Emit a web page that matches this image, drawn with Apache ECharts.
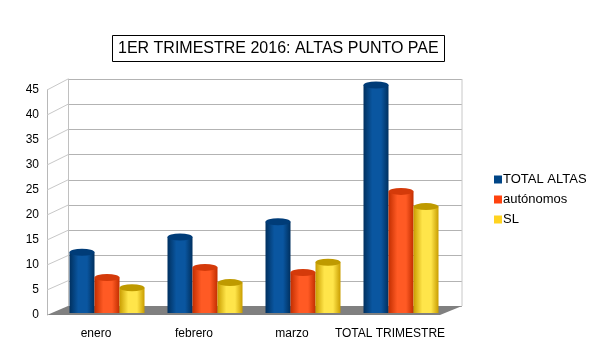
<!DOCTYPE html>
<html>
<head>
<meta charset="utf-8">
<script src="https://cdn.jsdelivr.net/npm/echarts@6/dist/echarts.min.js"></script>
<style>
  html, body { margin: 0; padding: 0; background: #fff; }
  #chart { width: 600px; height: 362px; }
</style>
</head>
<body>
<div id="chart"></div>
<script>
// datos del gráfico
var meses = ['enero', 'febrero', 'marzo', 'TOTAL TRIMESTRE'];
var totalAltas = [12, 15, 18, 45];
var autonomos = [7, 9, 8, 24];
var sl = [5, 6, 10, 21];
var yTicks = [0, 5, 10, 15, 20, 25, 30, 35, 40, 45];

var nombres = ['TOTAL ALTAS', 'autónomos', 'SL'];
var valores = [totalAltas, autonomos, sl];
// [borde oscuro, centro claro, tapa, plano leyenda]
var colores = [
  ['#00305f', '#0a56a0', '#003c78', '#004586'],
  ['#c22e00', '#ff5a24', '#d43a0a', '#ff420e'],
  ['#c99d00', '#ffe54a', '#bf9a00', '#ffd320']
];

// caja frontal (etiquetas), pared del fondo y zona de barras
var FRONT = { left: 47, right: 161, top: 90, bottom: 47 };
var BACK = { left: 68, right: 138, top: 79, bottom: 56 };
var BARS = { left: 58, right: 150, top: 85, bottom: 49 };
var W = 600, H = 362;

var myChart = echarts.init(document.getElementById('chart'));

function cilindro(c) {
  return new echarts.graphic.LinearGradient(0, 0, 1, 0, [
    { offset: 0, color: c[0] },
    { offset: 0.35, color: c[1] },
    { offset: 0.7, color: c[1] },
    { offset: 1, color: c[0] }
  ]);
}

var series = [];
nombres.forEach(function (n, i) {
  series.push({
    name: n,
    type: 'bar',
    xAxisIndex: 2,
    yAxisIndex: 2,
    barWidth: 25,
    barGap: 0,
    itemStyle: { color: cilindro(colores[i]) },
    z: 3,
    data: valores[i]
  });
});
nombres.forEach(function (n, i) {
  series.push({
    name: n,
    type: 'pictorialBar',
    xAxisIndex: 2,
    yAxisIndex: 2,
    barWidth: 25,
    barGap: 0,
    symbol: 'circle',
    symbolSize: [25, 7],
    symbolPosition: 'end',
    symbolOffset: [0, '-50%'],
    itemStyle: { color: colores[i][2] },
    z: 4,
    data: valores[i]
  });
});

var option = {
  backgroundColor: '#fff',
  animation: false,
  textStyle: { fontFamily: 'Liberation Sans, Arial, sans-serif' },
  title: {
    text: '1ER TRIMESTRE 2016: ALTAS PUNTO PAE',
    left: 112,
    top: 35,
    padding: [6, 6, 5, 6],
    borderColor: '#000',
    borderWidth: 1,
    textStyle: { fontSize: 16, fontWeight: 'normal', color: '#000', fontFamily: 'Liberation Sans' }
  },
  legend: {
    orient: 'vertical',
    left: 489,
    top: 168,
    itemWidth: 8,
    itemHeight: 8,
    itemGap: 7,
    icon: 'rect',
    textStyle: { fontSize: 13, color: '#000', padding: [0, 0, 0, -4] },
    data: nombres.map(function (n, i) {
      return { name: n, itemStyle: { color: colores[i][3] } };
    })
  },
  grid: [
    Object.assign({}, FRONT),
    Object.assign({}, BACK),
    Object.assign({}, BARS)
  ],
  xAxis: [
    {
      type: 'category', gridIndex: 0, data: meses,
      axisLine: { show: false }, axisTick: { show: false },
      axisLabel: { color: '#000', fontSize: 12, margin: 13, interval: 0 }
    },
    {
      type: 'category', gridIndex: 1, data: meses, show: false
    },
    {
      type: 'category', gridIndex: 2, data: meses, show: false
    }
  ],
  yAxis: [
    {
      type: 'value', gridIndex: 0, min: 0, max: 45, interval: 5,
      axisLine: { show: true, lineStyle: { color: '#b8b8b8' } },
      axisTick: { show: false },
      splitLine: { show: false },
      axisLabel: { color: '#000', fontSize: 12, margin: 8 }
    },
    {
      type: 'value', gridIndex: 1, min: 0, max: 45, interval: 5,
      axisLine: { show: true, lineStyle: { color: '#c0c0c0' } },
      axisTick: { show: false },
      axisLabel: { show: false },
      splitLine: { lineStyle: { color: '#b3b3b3' } }
    },
    {
      type: 'value', gridIndex: 2, min: 0, max: 45, interval: 5, show: false
    }
  ],
  series: series
};
myChart.setOption(option);

// suelo gris y líneas de unión frente-fondo
var g = [];
g.push({
  type: 'polygon',
  z: 1,
  shape: {
    points: [
      [FRONT.left, H - FRONT.bottom],
      [W - FRONT.right + 1, H - FRONT.bottom],
      [W - BACK.right, H - BACK.bottom],
      [BACK.left, H - BACK.bottom]
    ]
  },
  style: { fill: '#808080' }
});
g.push({
  type: 'line',
  z: 1,
  shape: { x1: W - BACK.right, y1: BACK.top, x2: W - BACK.right, y2: H - BACK.bottom },
  style: { stroke: '#c8c8c8', lineWidth: 1 }
});
yTicks.forEach(function (v) {
  if (v === 0) return;
  var yf = myChart.convertToPixel({ yAxisIndex: 0 }, v);
  var yb = myChart.convertToPixel({ yAxisIndex: 1 }, v);
  g.push({
    type: 'line',
    z: 1,
    shape: { x1: FRONT.left, y1: yf, x2: BACK.left, y2: yb },
    style: { stroke: '#c8c8c8', lineWidth: 1 }
  });
});
myChart.setOption({ graphic: g });
</script>
</body>
</html>
